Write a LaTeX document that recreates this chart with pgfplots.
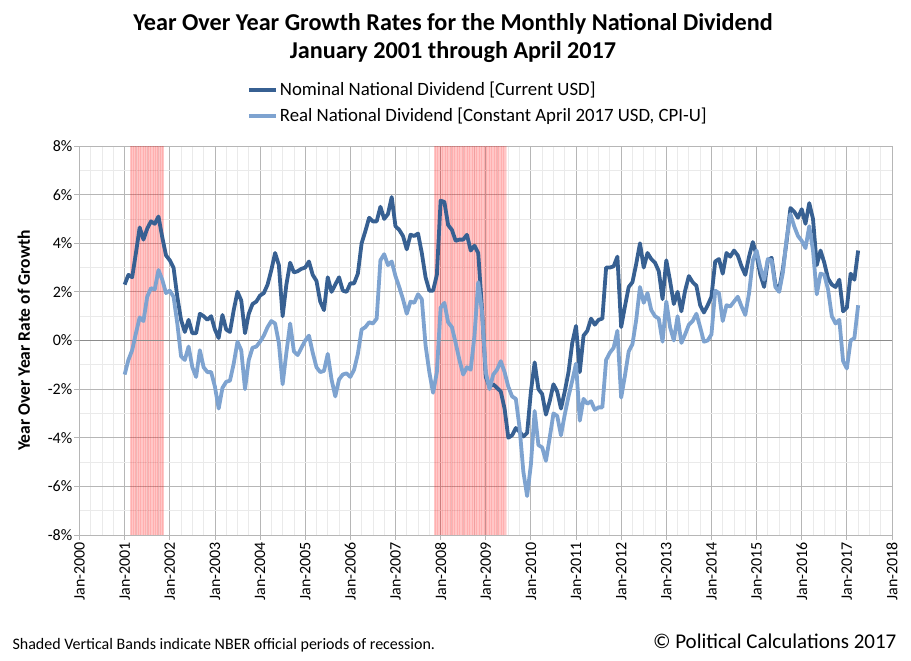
\documentclass[border=0pt]{standalone}
\usepackage{fontspec}
\setmainfont{Carlito}
\usepackage{pgfplots}
\usepackage{pgfplotstable}
\pgfplotsset{compat=1.18}
\definecolor{nomc}{RGB}{55,96,146}
\definecolor{realc}{RGB}{126,163,208}
\definecolor{majg}{RGB}{182,182,182}
\definecolor{ming}{RGB}{234,234,234}
\definecolor{zerog}{RGB}{140,140,140}

\pgfplotstableread{
nom real
2.3 -1.4
2.7 -0.8
2.6 -0.4
3.6 0.3
4.65 0.95
4.15 0.8
4.6 1.8
4.9 2.15
4.8 2.1
5.1 2.9
4.25 2.5
3.5 1.95
3.3 2.05
3.0 1.8
1.8 0.7
0.85 -0.65
0.35 -0.8
0.85 -0.25
0.3 -1.1
0.3 -1.5
1.1 -0.4
1.0 -1.1
0.85 -1.3
1.0 -1.3
0.45 -1.9
0.1 -2.8
1.05 -1.95
0.45 -1.7
0.35 -1.65
1.25 -0.95
2.0 -0.05
1.65 -0.4
0.3 -2.0
1.1 -0.8
1.5 -0.3
1.6 -0.25
1.85 -0.05
1.95 0.2
2.3 0.55
2.9 0.8
3.6 0.7
3.1 -0.1
1.0 -1.8
2.3 -0.5
3.2 0.7
2.8 -0.45
2.85 -0.6
2.95 -0.3
3.0 0.0
3.25 0.2
2.7 -0.5
2.45 -1.1
1.6 -1.3
1.25 -1.25
2.6 -0.55
2.0 -1.6
2.3 -2.3
2.6 -1.6
2.05 -1.4
2.0 -1.35
2.35 -1.5
2.35 -1.2
2.75 -0.55
4.0 0.45
4.5 0.55
5.05 0.75
4.9 0.7
4.9 0.9
5.5 3.3
5.0 3.55
5.2 3.1
5.9 3.25
4.7 2.65
4.55 2.2
4.3 1.7
3.75 1.1
4.35 1.6
4.3 1.55
4.4 1.9
3.6 1.7
2.6 -0.2
2.05 -1.3
2.05 -2.15
2.7 -1.3
5.75 1.35
5.7 1.55
4.75 0.75
4.55 0.55
4.1 -0.1
4.15 -0.8
4.15 -1.4
4.35 -1.1
3.7 -1.2
3.9 0.2
3.6 2.4
1.3 1.2
-1.5 -1.3
-1.9 -2.0
-1.8 -1.4
-1.95 -1.2
-2.1 -0.85
-2.8 -1.3
-4.0 -1.9
-3.9 -2.3
-3.6 -2.4
-3.75 -3.6
-3.95 -5.4
-3.8 -6.4
-2.1 -5.1
-0.9 -2.9
-2.0 -4.3
-2.2 -4.4
-3.05 -4.95
-2.5 -4.0
-1.8 -3.0
-2.1 -3.1
-2.8 -3.9
-2.1 -3.05
-1.3 -2.3
-0.1 -1.65
0.6 -0.95
-1.3 -3.3
0.2 -2.4
0.4 -2.6
0.9 -2.5
0.65 -2.85
0.85 -2.75
0.9 -2.75
3.0 -0.8
3.0 -0.5
3.05 -0.3
3.45 0.4
0.55 -2.35
1.4 -1.45
2.2 -0.45
2.4 -0.15
3.15 0.85
4.0 2.2
3.0 1.55
3.6 1.95
3.35 1.25
3.2 1.0
2.85 0.9
1.7 -0.05
3.3 1.6
2.45 0.55
1.5 0.0
2.0 1.0
1.2 -0.1
2.05 0.25
2.65 0.65
2.4 0.8
2.25 1.1
1.45 0.55
1.15 -0.05
1.45 0.0
1.8 0.25
3.25 2.05
3.35 1.95
2.75 0.8
3.6 1.45
3.45 1.4
3.7 1.6
3.5 1.8
3.05 1.4
2.7 1.05
3.45 1.95
4.05 3.3
3.5 3.7
2.7 3.0
2.2 2.5
3.3 3.35
3.4 3.3
2.3 2.2
2.1 2.0
2.95 2.8
4.1 4.2
5.45 5.2
5.3 4.7
5.05 4.3
5.4 4.1
4.8 3.8
5.65 4.7
5.0 3.7
3.1 1.9
3.7 2.75
3.2 2.7
2.55 2.1
2.3 1.0
2.2 0.7
2.5 0.85
1.2 -0.85
1.35 -1.15
2.75 0.0
2.5 0.1
3.7 1.45
}\data

\begin{document}
\begin{tikzpicture}[x=1pt,y=1pt]
\path[use as bounding box] (0,0) rectangle (911,661);
\node[font=\fontsize{24.2}{28}\selectfont\bfseries, align=center] at (453,623) {Year Over Year Growth Rates for the Monthly National Dividend\\January 2001 through April 2017};
\begin{axis}[
  at={(79.5pt,126pt)}, anchor=south west,
  width=812.5pt, height=389pt, scale only axis,
  xmin=-12, xmax=204, ymin=-8, ymax=8,
  xtick={-12,0,...,204},
  xticklabels={Jan-2000,Jan-2001,Jan-2002,Jan-2003,Jan-2004,Jan-2005,Jan-2006,Jan-2007,Jan-2008,Jan-2009,Jan-2010,Jan-2011,Jan-2012,Jan-2013,Jan-2014,Jan-2015,Jan-2016,Jan-2017,Jan-2018},
  minor x tick num=3,
  ytick={-8,-6,...,8},
  yticklabels={-8\%,-6\%,-4\%,-2\%,0\%,2\%,4\%,6\%,8\%},
  minor y tick num=1,
  grid=both,
  major grid style={majg, line width=0.8pt},
  minor grid style={ming, line width=0.8pt},
  axis line style={majg, line width=0.8pt},
  tick align=outside,
  major tick length=5pt, minor tick length=0pt,
  tick style={majg, line width=0.8pt},
  xtick pos=bottom, ytick pos=left,
  xticklabel style={rotate=90, anchor=east, font=\fontsize{16}{18}\selectfont, inner sep=2pt},
  yticklabel style={font=\fontsize{16}{18}\selectfont, inner sep=2pt},
  ylabel={Year Over Year Rate of Growth},
  every axis y label/.style={at={(axis description cs:-0.0685,0.5)}, rotate=90, anchor=center, font=\fontsize{17.5}{20}\selectfont\bfseries},
  legend style={at={(axis description cs:0.206,1.17)}, anchor=north west, draw=none, fill=none, font=\fontsize{18.8}{21}\selectfont, row sep=7pt, inner sep=0pt},
  legend cell align=left,
  legend image code/.code={\draw[#1] (0pt,0pt) -- (27pt,0pt);},
]
\addplot[draw=none, fill=red, fill opacity=0.22, forget plot] coordinates {(1.3,-8) (1.3,8) (10.5,8) (10.5,-8)};
\addplot[draw=none, fill=red, fill opacity=0.22, forget plot] coordinates {(82.2,-8) (82.2,8) (101.4,8) (101.4,-8)};
\pgfplotsinvokeforeach{1.7,2.35,...,10.3}{\draw[red, opacity=0.12, line width=0.9pt] (axis cs:#1,-8) -- (axis cs:#1,8);}
\pgfplotsinvokeforeach{82.6,83.25,...,101.2}{\draw[red, opacity=0.12, line width=0.9pt] (axis cs:#1,-8) -- (axis cs:#1,8);}
\draw[zerog, line width=0.9pt] (axis cs:-12,0) -- (axis cs:204,0);
\addplot[nomc, line width=3.8pt, line join=round] table[x expr=\coordindex, y=nom] {\data};
\addlegendentry{Nominal National Dividend [Current USD]}
\addplot[realc, line width=3.8pt, line join=round] table[x expr=\coordindex, y=real] {\data};
\addlegendentry{Real National Dividend [Constant April 2017 USD, CPI-U]}
\end{axis}
\node[anchor=base west, font=\fontsize{16}{18}\selectfont] at (9,11) {Shaded Vertical Bands indicate NBER official periods of recession.};
\node[anchor=base east, font=\fontsize{21}{24}\selectfont] at (900,12) {© Political Calculations 2017};
\end{tikzpicture}
\end{document}
